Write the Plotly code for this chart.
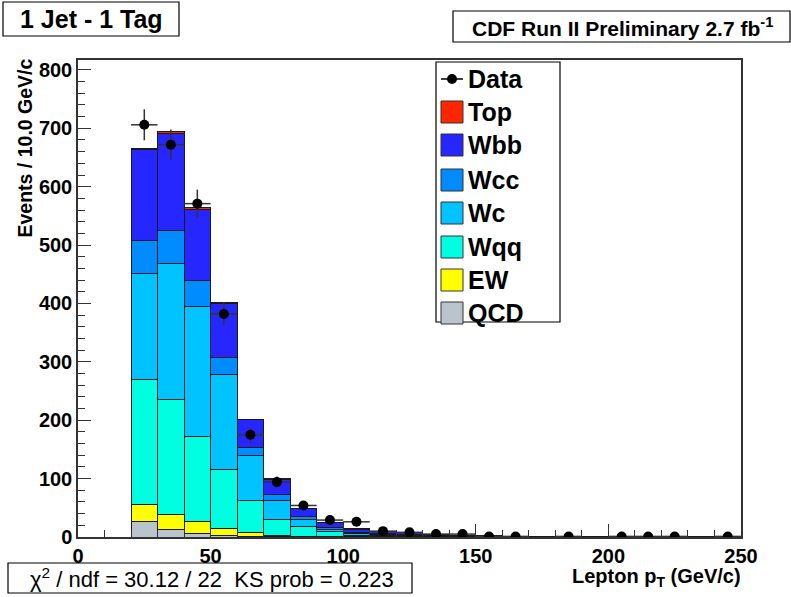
import plotly.graph_objects as go
import numpy as np

# ---- data ----
bin_centers = [25, 35, 45, 55, 65, 75, 85, 95, 105, 115, 125, 135, 145, 155, 165, 175, 185, 195, 205, 215, 225, 235, 245]
qcd = [27, 13, 6, 3, 1, 0.5, 0.3, 0.2, 0.1, 0.1, 0.1, 0, 0, 0, 0, 0, 0, 0, 0, 0, 0, 0, 0]
ew  = [29, 26, 20, 11, 6.5, 2.5, 0.8, 0.5, 0.3, 0.2, 0.1, 0.1, 0, 0, 0, 0, 0, 0, 0, 0, 0, 0, 0]
wqq = [213, 197, 147, 101, 54.5, 27, 16.6, 8, 3, 2.7, 2, 1.2, 0.9, 0.6, 0.4, 0.3, 0.2, 0.15, 0.1, 0.1, 0.05, 0.05, 0.05]
wc  = [182, 232, 221, 164, 78, 33, 12.3, 5, 2.3, 2, 1.5, 0.9, 0.6, 0.4, 0.3, 0.2, 0.15, 0.1, 0.1, 0.05, 0.05, 0.05, 0.05]
wcc = [56, 57, 45, 29, 14, 9, 5, 3.3, 2.3, 1, 1, 0.6, 0.4, 0.3, 0.2, 0.15, 0.1, 0.1, 0.05, 0.05, 0.05, 0.05, 0.05]
wbb = [156, 166, 122, 92, 47, 27, 13, 8, 5.6, 4, 3, 1.8, 1.2, 0.8, 0.5, 0.4, 0.3, 0.2, 0.15, 0.1, 0.1, 0.05, 0.05]
top = [2.5, 3, 3, 1.5, 1, 0.6, 0.4, 0.3, 0.2, 0.1, 0.1, 0.1, 0.05, 0.05, 0, 0, 0, 0, 0, 0, 0, 0, 0]

data_x = [25, 35, 45, 55, 65, 75, 85, 95, 105, 115, 125, 135, 145, 155, 165, 185, 205, 215, 225, 245]
data_y = [706, 672, 571, 382, 175, 94, 54, 29, 26, 10, 8, 5, 5, 1, 1, 1, 1, 1, 1, 1]

components = [("QCD", qcd, "#b9c4cc"), ("EW", ew, "#ffff00"), ("Wqq", wqq, "#00ffe1"),
              ("Wc", wc, "#00c3ff"), ("Wcc", wcc, "#008cff"), ("Wbb", wbb, "#2626ff"),
              ("Top", top, "#ff2600")]

# ---- geometry (pixels) ----
W, Hh = 791, 597
L, R, T, B = 78, 741, 60, 537
PW, PH = R - L, B - T

def px(x):
    return (x - L) / PW

def py(y):
    return (B - y) / PH

fig = go.Figure()
for name, vals, col in components:
    fig.add_trace(go.Bar(x=bin_centers, y=vals, width=10, name=name,
                         marker=dict(color=col, line=dict(color="#1a1a1a", width=1)),
                         showlegend=False))

fig.add_trace(go.Scatter(x=data_x, y=data_y, mode="markers", name="Data",
                         marker=dict(color="black", size=10),
                         error_y=dict(type="data", array=list(np.sqrt(data_y)), width=0,
                                      thickness=1.5, color="#333333"),
                         error_x=dict(type="constant", value=5, width=0,
                                      thickness=1.5, color="#333333"),
                         showlegend=False))

shapes = []
annotations = []
FONT = "Liberation Sans, Arial, sans-serif"

def box(x0, y0, x1, y1):
    shapes.append(dict(type="rect", xref="paper", yref="paper",
                       x0=px(x0), x1=px(x1), y0=py(y1), y1=py(y0),
                       line=dict(color="black", width=1.2), fillcolor="white", layer="above"))

def text(x, y, s, size, bold=True, xanchor="center"):
    annotations.append(dict(xref="paper", yref="paper", x=px(x), y=py(y), text=("<b>%s</b>" % s) if bold else s,
                            showarrow=False, xanchor=xanchor, yanchor="middle",
                            font=dict(family=FONT, size=size, color="black")))

# title boxes
box(3, 2, 179, 36)
text(91, 19, "1 Jet - 1 Tag", 25)
box(453, 11, 790, 42)
text(622, 27, "CDF Run II Preliminary 2.7 fb<sup>-1</sup>", 21)
box(8, 563, 412, 593)
text(212, 578, "χ<sup>2</sup> / ndf = 30.12 / 22  KS prob = 0.223", 22, bold=False)

# legend
box(436, 62, 560, 322)
leg_y = [79, 112, 145, 180, 213, 247, 280, 313]
leg_items = [("Data", None)] + [(n, c) for n, _, c in components[::-1]]
for (name, col), yy in zip(leg_items, leg_y):
    if col is None:
        shapes.append(dict(type="line", xref="paper", yref="paper", x0=px(441), x1=px(463),
                           y0=py(yy), y1=py(yy), line=dict(color="black", width=1.5), layer="above"))
        shapes.append(dict(type="circle", xref="paper", yref="paper", x0=px(447), x1=px(457),
                           y0=py(yy + 5), y1=py(yy - 5), fillcolor="black",
                           line=dict(color="black", width=0), layer="above"))
    else:
        shapes.append(dict(type="rect", xref="paper", yref="paper", x0=px(441), x1=px(463),
                           y0=py(yy + 11), y1=py(yy - 11), fillcolor=col,
                           line=dict(color="#333333", width=1), layer="above"))
    text(466, yy, name, 25, xanchor="left")

# axis titles
annotations.append(dict(xref="paper", yref="paper", x=px(24), y=py(57), text="<b>Events / 10.0 GeV/c</b>",
                        showarrow=False, textangle=-90, xanchor="center", yanchor="top",
                        font=dict(family=FONT, size=19.5, color="black")))
annotations.append(dict(xref="paper", yref="paper", x=px(743), y=py(577), text="<b>Lepton p<sub>T</sub> (GeV/c)</b>",
                        showarrow=False, xanchor="right", yanchor="middle",
                        font=dict(family=FONT, size=20, color="black")))

fig.update_layout(
    width=W, height=Hh, barmode="stack",
    margin=dict(l=L, r=W - R, t=T, b=Hh - B, pad=0),
    plot_bgcolor="white", paper_bgcolor="white",
    shapes=shapes, annotations=annotations, showlegend=False,
    xaxis=dict(range=[0, 250], tick0=0, dtick=50, ticks="inside", ticklen=13, tickcolor="#333",
               minor=dict(dtick=10, ticks="inside", ticklen=7, tickcolor="#333"),
               showline=True, linecolor="#333", linewidth=1.5, mirror=True,
               showgrid=False, zeroline=False,
               tickfont=dict(family=FONT, size=20, color="black"), tickprefix="<b>", ticksuffix="</b>"),
    yaxis=dict(range=[0, 817], tick0=0, dtick=100, ticks="inside", ticklen=13, tickcolor="#333",
               minor=dict(dtick=20, ticks="inside", ticklen=7, tickcolor="#333"),
               showline=True, linecolor="#333", linewidth=1.5, mirror=True,
               showgrid=False, zeroline=False,
               tickfont=dict(family=FONT, size=20, color="black"), tickprefix="<b>", ticksuffix="</b>"),
)

fig.write_html("out.html")
